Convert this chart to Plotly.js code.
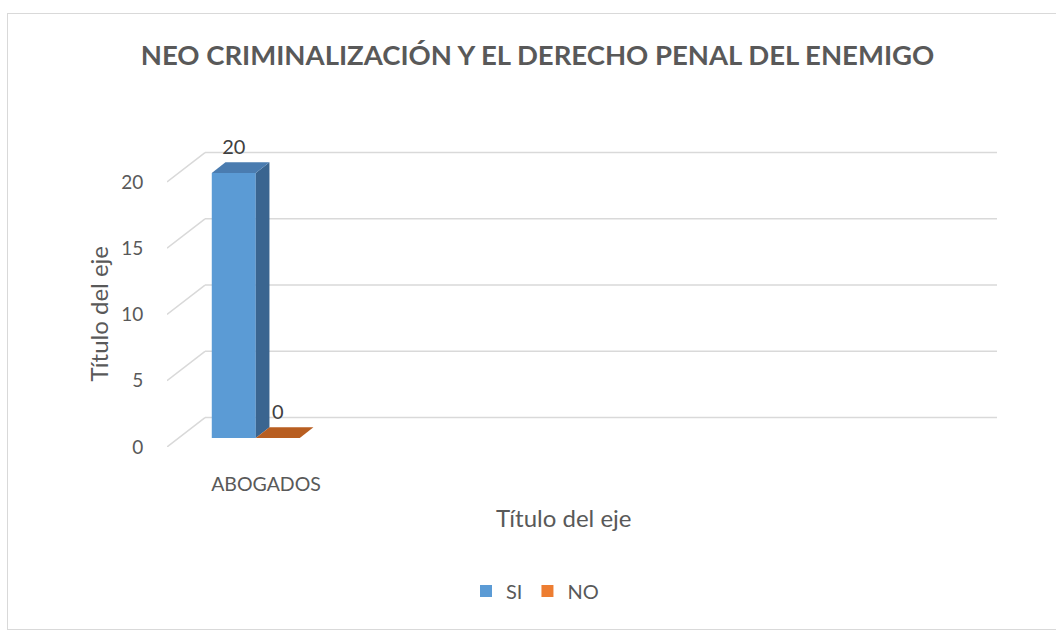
<!DOCTYPE html>
<html><head><meta charset="utf-8">
<script src="https://cdn.plot.ly/plotly-3.0.1.min.js"></script>
<style>
html,body{margin:0;padding:0;background:#fff;}
#chart{width:1056px;height:630px;}
#frame{position:absolute;left:7px;top:13px;width:1060px;height:615px;border:1px solid #D9D9D9;pointer-events:none;}
</style>
</head><body><div id="chart"></div><div id="frame"></div>
<script>
// ---- data ----
const categories = ["ABOGADOS"];
const seriesNames = ["SI", "NO"];
const siValues = [20];
const noValues = [0];
const yTickValues = [0, 5, 10, 15, 20];
const chartTitle = "NEO CRIMINALIZACIÓN Y EL DERECHO PENAL DEL ENEMIGO";
const xAxisTitle = "Título del eje";
const yAxisTitle = "Título del eje";

// ---- 3D-look geometry (styles) ----
const SLOTS = 4;               // category slots along the floor
const SLOT_PX = 198;           // pixel width of one category slot
const PX_PER_UNIT = 13.25;     // pixels per value unit
const DX = 38 / SLOT_PX;       // x shift for full depth (axis units)
const DY = 2.22;               // y shift for full depth (value units)
const D0 = 0.31, D1 = 0.67;    // bar depth span
const BAR_W = 44 / SLOT_PX;
const GROUP_START = -1 / 3;
const LABEL_LIFT = 0.25;
const FONT = "Lato, Carlito, Calibri, sans-serif";
const TEXT = "#595959";
const faces = [
  {front: "#5B9BD5", side: "#3A6590", top: "#4A7CB0"},
  {front: "#ED7D31", side: "#A9561E", top: "#B85E21"}
];
const seriesValues = [siValues, noValues];

const M = {l: 167, r: 59, t: 140, b: 183};
const plotW = 1056 - M.l - M.r, plotH = 630 - M.t - M.b;
const xMax = -0.5 + plotW / SLOT_PX;
const yMax = plotH / PX_PER_UNIT;

// gridlines (back wall + floor-side diagonals), drawn below traces
const shapes = [];
yTickValues.forEach(t => {
  const ln = {color: "#D9D9D9", width: 1.5};
  shapes.push({type: "line", xref: "x", yref: "y", layer: "below", x0: -0.5, y0: t, x1: -0.5 + DX, y1: t + DY, line: ln});
  shapes.push({type: "line", xref: "x", yref: "y", layer: "below", x0: -0.5 + DX, y0: t + DY, x1: xMax, y1: t + DY, line: ln});
});

const traces = [];
// front faces (bars)
seriesValues.forEach((vals, j) => {
  traces.push({type: "bar", name: seriesNames[j],
    x: vals.map((v, i) => i + GROUP_START + (j + 0.5) * BAR_W + D0 * DX),
    y: vals, base: D0 * DY, width: BAR_W,
    marker: {color: faces[j].front, line: {width: 0}}, hoverinfo: "skip"});
});

// side and top faces
seriesValues.forEach((vals, j) => {
  vals.forEach((v, i) => {
    const xl = i + GROUP_START + j * BAR_W;
    const xr = xl + BAR_W;
    traces.push({type: "scatter", mode: "lines", fill: "toself",
      x: [xr + D0 * DX, xr + D1 * DX, xr + D1 * DX, xr + D0 * DX, xr + D0 * DX],
      y: [D0 * DY, D1 * DY, v + D1 * DY, v + D0 * DY, D0 * DY],
      fillcolor: faces[j].side, line: {width: 0, color: faces[j].side},
      hoverinfo: "skip", showlegend: false});
    traces.push({type: "scatter", mode: "lines", fill: "toself",
      x: [xl + D0 * DX, xr + D0 * DX, xr + D1 * DX, xl + D1 * DX, xl + D0 * DX],
      y: [v + D0 * DY, v + D0 * DY, v + D1 * DY, v + D1 * DY, v + D0 * DY],
      fillcolor: faces[j].top, line: {width: 0, color: faces[j].top},
      hoverinfo: "skip", showlegend: false});
  });
});

// data labels
seriesValues.forEach((vals, j) => {
  traces.push({type: "scatter", mode: "text", cliponaxis: false,
    x: vals.map((v, i) => i + GROUP_START + (j + 0.5) * BAR_W + D0 * DX),
    y: vals.map(v => v + D1 * DY + LABEL_LIFT),
    text: vals.map(v => String(v)), textposition: "top center",
    textfont: {family: FONT, size: 20, color: "#404040"},
    hoverinfo: "skip", showlegend: false});
});

const layout = {
  width: 1056, height: 630,
  margin: {l: M.l, r: M.r, t: M.t, b: M.b, pad: 0},
  paper_bgcolor: "#ffffff", plot_bgcolor: "rgba(0,0,0,0)",
  font: {family: FONT, color: TEXT, size: 18},
  hovermode: false,
  shapes: shapes,
  title: {text: chartTitle, font: {family: FONT, size: 27.5, color: TEXT, weight: "bold"},
    x: 0.509, xanchor: "center", y: 1 - 55 / 630, yanchor: "middle", xref: "container", yref: "container"},
  xaxis: {range: [-0.5, xMax], tickvals: categories.map((c, i) => i), ticktext: categories,
    ticks: "outside", ticklen: 20, tickcolor: "rgba(0,0,0,0)", showgrid: false, zeroline: false, showline: false,
    tickfont: {family: FONT, size: 19.5, color: TEXT}, automargin: false, fixedrange: true},
  yaxis: {range: [0, yMax], tickvals: yTickValues, ticks: "outside", ticklen: 19, tickcolor: "rgba(0,0,0,0)",
    showgrid: false, zeroline: false, showline: false, automargin: false, fixedrange: true,
    tickfont: {family: FONT, size: 19, color: TEXT}},
  annotations: [
    {text: xAxisTitle, xref: "x", yref: "paper", x: (SLOTS - 1) / 2, y: (M.t + plotH - 517) / plotH,
      xanchor: "center", yanchor: "middle", showarrow: false, font: {family: FONT, size: 24, color: TEXT}},
    {text: yAxisTitle, xref: "paper", yref: "y", x: (98 - M.l) / plotW, y: yTickValues[yTickValues.length - 1] / 2,
      xanchor: "center", yanchor: "middle", textangle: -90, showarrow: false, font: {family: FONT, size: 24, color: TEXT}}
  ],
  barmode: "overlay",
  showlegend: true,
  legend: {orientation: "h", x: (535 - M.l) / plotW, xanchor: "center", y: (M.t + plotH - 591) / plotH, yanchor: "middle",
    font: {family: FONT, size: 20, color: TEXT}, itemwidth: 30, bgcolor: "rgba(0,0,0,0)"}
};

Plotly.newPlot("chart", traces, layout, {displayModeBar: false, staticPlot: true});
</script>
</body></html>
